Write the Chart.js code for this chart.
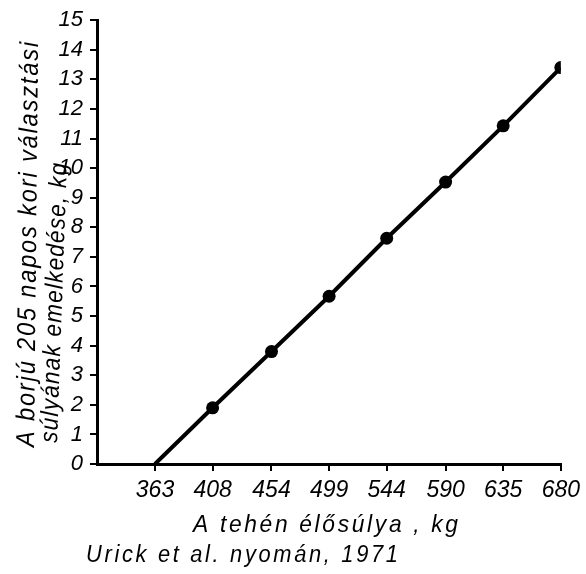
<!DOCTYPE html>
<html>
<head>
<meta charset="utf-8">
<script src="https://cdn.jsdelivr.net/npm/chart.js@4"></script>
<style>
  html, body { margin: 0; padding: 0; background: #fff; }
  #wrap { width: 586px; height: 574px; }
</style>
</head>
<body>
<div id="wrap"><canvas id="borjuChart"></canvas></div>
<script>
// adatok az ábráról
const tehenSuly = [363, 408, 454, 499, 544, 590, 635, 680];
const borjuSuly = [0, 1.9, 3.8, 5.67, 7.63, 9.53, 11.43, 13.4];
const xTickek = [363, 408, 454, 499, 544, 590, 635, 680];
const pontMeret = [0, 6.5, 6.5, 6.5, 6.5, 6.5, 6.5, 6.5]; // az első pontnak nincs jele

const yCim = ['A borjú 205 napos kori választási', 'súlyának emelkedése, kg'];
const xCim = 'A tehén élősúlya , kg';
const forras = 'Urick et al. nyomán, 1971';

const betu = '"Liberation Sans", Arial, sans-serif';

// szöveg kiírása keskenyítve, adott szélességre széthúzva
function kiir(ctx, text, x, y, rot, szel, k) {
  ctx.save();
  ctx.translate(x, y);
  ctx.rotate(rot);
  ctx.scale(k, 1);
  ctx.letterSpacing = '0px';
  const w = ctx.measureText(text).width;
  const ls = (szel / k - w) / (text.length - 1);
  ctx.letterSpacing = ls + 'px';
  ctx.fillText(text, 0, 0);
  ctx.restore();
}

const feliratok = {
  id: 'feliratok',
  afterDraw(chart) {
    const ctx = chart.ctx;
    ctx.save();
    ctx.fillStyle = '#000';
    ctx.textAlign = 'left';
    ctx.textBaseline = 'alphabetic';

    // függőleges tengelycím, két sor (a szkennelt lap kissé ferde)
    ctx.font = 'italic 26px ' + betu;
    kiir(ctx, yCim[0], 34, 447, -Math.PI / 2 + 0.01, 405, 0.9);
    ctx.font = 'italic 25px ' + betu;
    kiir(ctx, yCim[1], 57, 443, -Math.PI / 2 + 0.035, 280, 0.9);

    // vízszintes tengelycím
    ctx.font = 'italic 24px ' + betu;
    kiir(ctx, xCim, 193, 532, 0, 265, 0.95);

    // forrás
    ctx.font = 'italic 23px ' + betu;
    kiir(ctx, forras, 86, 562, 0, 312, 0.95);
    ctx.restore();
  }
};

const ctx = document.getElementById('borjuChart').getContext('2d');

const borjuChart = new Chart(ctx, {
  type: 'line',
  data: {
    datasets: [{
      data: tehenSuly.map((x, i) => ({ x: x, y: borjuSuly[i] })),
      borderColor: '#000',
      backgroundColor: '#000',
      borderWidth: 4,
      pointRadius: pontMeret,
      pointHoverRadius: pontMeret,
      pointBackgroundColor: '#000',
      pointBorderColor: '#000',
      pointBorderWidth: 0,
      tension: 0,
      fill: false
    }]
  },
  options: {
    responsive: true,
    maintainAspectRatio: false,
    animation: false,
    events: [],
    layout: {
      padding: { top: 15, right: 22, bottom: 0, left: 0 }
    },
    plugins: {
      legend: { display: false },
      tooltip: { enabled: false }
    },
    scales: {
      x: {
        type: 'linear',
        min: 317.7,  // 363 - egy osztás
        max: 680,
        afterBuildTicks: (s) => { s.ticks = xTickek.map(v => ({ value: v })); },
        afterFit: (s) => { s.height = 110; },
        grid: {
          drawOnChartArea: false,
          drawTicks: true,
          tickLength: 7,
          color: '#000',
          lineWidth: 2
        },
        border: { display: true, color: '#000', width: 3 },
        ticks: {
          color: '#000',
          padding: 6,
          maxRotation: 0,
          autoSkip: false,
          font: { family: betu, size: 23, style: 'italic' },
          callback: (v) => String(v)
        }
      },
      y: {
        min: 0,
        max: 15,
        afterFit: (s) => { s.width = 97; },
        grid: {
          drawOnChartArea: false,
          drawTicks: true,
          tickLength: 7,
          color: '#000',
          lineWidth: 2
        },
        border: { display: true, color: '#000', width: 3 },
        ticks: {
          stepSize: 1,
          color: '#000',
          padding: 7,
          autoSkip: false,
          font: { family: betu, size: 22, style: 'italic' }
        }
      }
    }
  },
  plugins: [feliratok]
});
</script>
</body>
</html>
